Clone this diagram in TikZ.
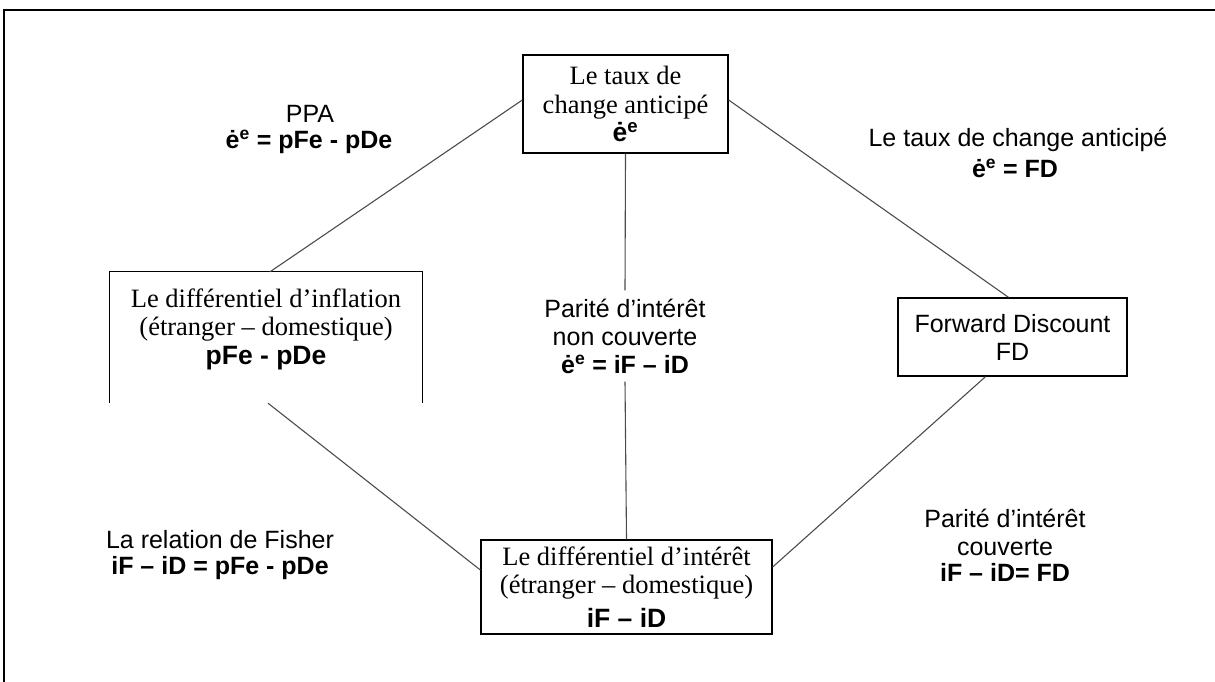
\documentclass[tikz,border=0pt]{standalone}
\usepackage{fontspec}
\setmainfont{Liberation Serif}
\setsansfont{Liberation Sans}
\usetikzlibrary{calc}
\begin{document}
\begin{tikzpicture}[x=1pt,y=-1pt,
  boxed/.style={draw=black, line width=1.3pt, inner sep=0pt},
  frameline/.style={draw=black, line width=2pt},
  conn/.style={draw=black!70, line width=1.1pt},
  serif/.style={font=\fontsize{26.5}{28.5}\selectfont\rmfamily, align=center, inner sep=0pt},
  sans/.style={font=\fontsize{25}{28}\selectfont\sffamily, align=center, inner sep=0pt},
  sansb/.style={font=\fontsize{25}{28}\selectfont\sffamily\bfseries, align=center, inner sep=0pt}]
\useasboundingbox (0,0) rectangle (1215,682);
% outer frame (open on right and bottom)
\draw[frameline] (4,682) -- (4,10) -- (1215,10);

% boxes
\node[boxed, serif, minimum width=205pt, minimum height=98pt] (top) at (625.5,104)
  {Le taux de\\change anticipé\\{\sffamily\bfseries ė\textsuperscript{e}}};
\node[minimum width=312pt, minimum height=131pt, inner sep=0pt] (infl) at (266,337.5) {};
\draw[line width=1.3pt] (infl.south west) -- (infl.north west) -- (infl.north east) -- (infl.south east);
\node[serif] (infltxt) at (266,329)
  {Le différentiel d’inflation\\(étranger – domestique)\\{\sffamily\bfseries pFe - pDe}};
\node[boxed, sans, minimum width=229pt, minimum height=78pt] (fd) at (1012.5,337)
  {Forward Discount\\FD};
\node[boxed, serif, minimum width=291pt, minimum height=94pt] (dint) at (626.5,587)
  {Le différentiel d’intérêt\\(étranger – domestique)\\[5pt]{\sffamily\bfseries iF – iD}};

% labels
\node[sans] (ppa) at (310,114) {PPA};
\node[sansb] (ppaf) at (309,142) {ė\textsuperscript{e} = pFe - pDe};
\node[sans] (tca) at (1018,140) {Le taux de change anticipé};
\node[sansb] (tcaf) at (1015,168) {ė\textsuperscript{e} = FD};
\node[sans, inner ysep=8pt] (pnc) at (625,336)
  {Parité d’intérêt\\non couverte\\{\bfseries ė\textsuperscript{e} = iF – iD}};
\node[sans] (fish) at (220,540) {La relation de Fisher};
\node[sansb] (fishf) at (220,568) {iF – iD = pFe - pDe};
\node[sans] (pc) at (1005,532) {Parité d’intérêt\\couverte};
\node[sansb] (pcf) at (1005,572) {iF – iD= FD};

% connectors
\draw[conn] ($(top.west)+(0,-4)$) -- ($(infl.north)+(4,0)$);
\draw[conn] ($(top.east)+(0,-4)$) -- ($(fd.north)+(-4,0)$);
\draw[conn] (top.south) -- (pnc.north);
\draw[conn] (pnc.south) -- (dint.north);
\draw[conn] ($(infl.south)+(2,0)$) -- ($(dint.west)+(0,-17)$);
\draw[conn] ($(fd.south)+(-27,0)$) -- ($(dint.east)+(0,-20)$);
\end{tikzpicture}
\end{document}
